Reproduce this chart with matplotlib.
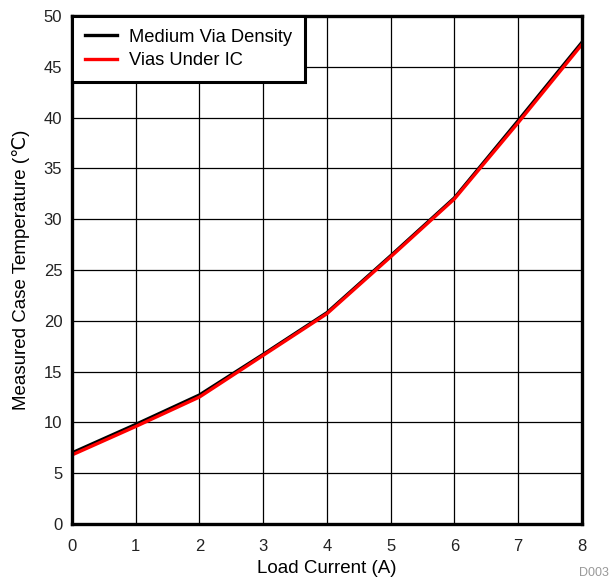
import matplotlib
matplotlib.use("Agg")
import matplotlib.pyplot as plt

plt.rcParams['font.family'] = ['Liberation Sans', 'DejaVu Sans']

current = [0, 1, 2, 3, 4, 5, 6, 7, 8]
medium_via = [7.0, 9.8, 12.7, 16.7, 20.8, 26.4, 32.1, 39.7, 47.4]
vias_under_ic = [6.8, 9.6, 12.5, 16.6, 20.7, 26.3, 32.0, 39.5, 47.2]

fig = plt.figure(figsize=(6.1, 5.84), dpi=100)
ax = fig.add_axes([0.118, 0.1027, 0.836, 0.870])
ax.plot(current, medium_via, color='black', lw=2.4, label='Medium Via Density')
ax.plot(current, vias_under_ic, color='red', lw=2.4, label='Vias Under IC')
ax.set_xlim(0, 8)
ax.set_ylim(0, 50)
ax.set_xticks(range(0, 9))
ax.set_yticks(range(0, 51, 5))
ax.grid(True, color='black', lw=0.9)
ax.tick_params(length=0, labelsize=12, colors='#222222')
ax.tick_params(axis='x', pad=11)
ax.tick_params(axis='y', pad=7)
for s in ax.spines.values():
    s.set_linewidth(2.4)
ax.set_xlabel('Load Current (A)', fontsize=13.5, labelpad=4)
ax.set_ylabel('Measured Case Temperature (℃)', fontsize=13.5, labelpad=10)
leg = ax.legend(loc='upper left', fontsize=13.2, frameon=True, fancybox=False,
                edgecolor='black', borderaxespad=0, handlelength=1.75,
                handletextpad=0.65, borderpad=0.7, labelspacing=0.35)
leg.get_frame().set_linewidth(2.2)
leg.get_frame().set_alpha(1)
fig.text(0.998, 0.008, 'D003', ha='right', va='bottom', fontsize=9, color='#999999')
fig.savefig('out.png', dpi=100)
